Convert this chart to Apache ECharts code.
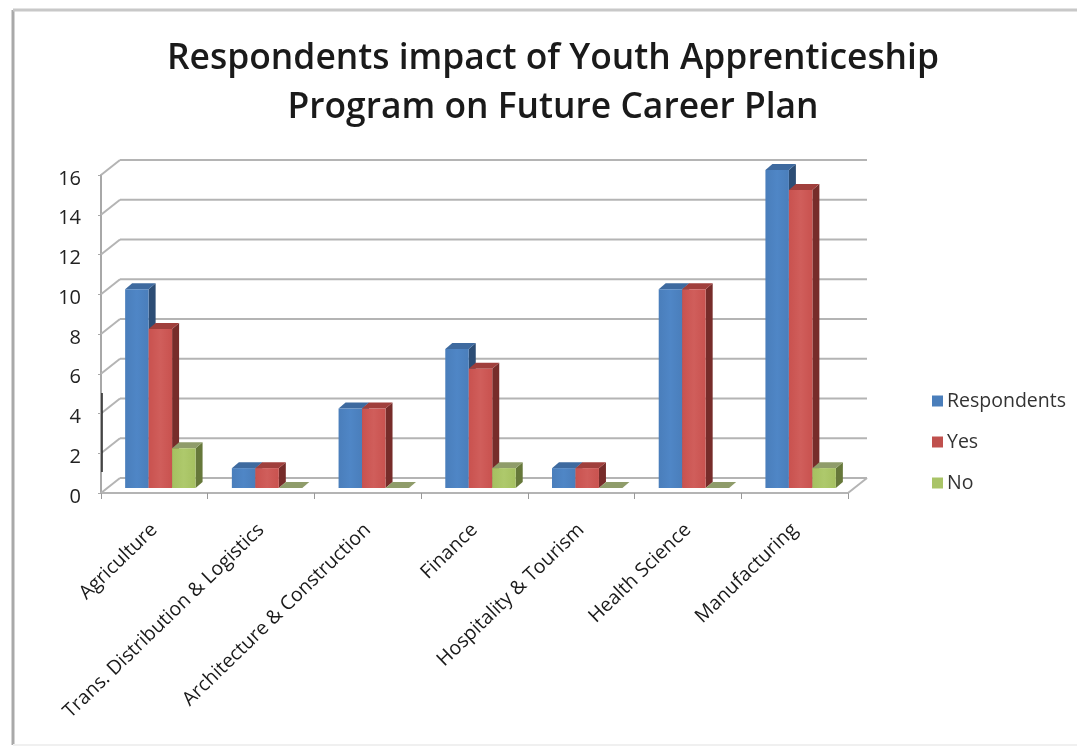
<!DOCTYPE html>
<html>
<head>
<meta charset="utf-8">
<style>html,body{margin:0;padding:0;background:#fff}#chart{width:1077px;height:747px}</style>
<script src="https://cdn.jsdelivr.net/npm/echarts@6/dist/echarts.min.js"></script>
</head>
<body>
<div id="chart"></div>
<script>
const titleText = 'Respondents impact of Youth Apprenticeship\nProgram on Future Career Plan';
const categories = ['Agriculture', 'Trans. Distribution & Logistics', 'Architecture & Construction', 'Finance', 'Hospitality & Tourism', 'Health Science', 'Manufacturing'];
const respondents = [10, 1, 4, 7, 1, 10, 16];
const yes = [8, 1, 4, 6, 1, 10, 15];
const no = [2, 0, 0, 1, 0, 0, 1];
const yTicks = [0, 2, 4, 6, 8, 10, 12, 14, 16];

// Pseudo-3D projection: the wall sits behind the axis plane, bars stand mid-way
const WALL_DX = 19, WALL_DY = -15;
const BAR_DX = 6, BAR_DY = -5;
const CAP_DX = 7, CAP_DY = -6;
const BAR_SHARE = 0.22;

const chart = echarts.init(document.getElementById('chart'));

function wallLines(params, api) {
  const v = api.value(0);
  const cs = params.coordSys;
  const y = api.coord([0, v])[1];
  const left = cs.x, right = cs.x + cs.width;
  const lineStyle = { stroke: '#b4b4b4', lineWidth: 2, fill: null };
  const children = [
    { type: 'line', shape: { x1: left, y1: y, x2: left + WALL_DX, y2: y + WALL_DY }, style: lineStyle },
    { type: 'line', shape: { x1: left + WALL_DX, y1: y + WALL_DY, x2: right + WALL_DX, y2: y + WALL_DY }, style: lineStyle }
  ];
  if (v === 0) {
    children.push({ type: 'line', shape: { x1: right, y1: y, x2: right + WALL_DX, y2: y + WALL_DY }, style: lineStyle });
  }
  return { type: 'group', children };
}

function barRenderer(slot, front, side, cap) {
  return function (params, api) {
    const idx = api.value(0);
    const p = api.coord([idx, api.value(1)]);
    const base = api.coord([idx, 0]);
    const w = api.size([1, 0])[0] * BAR_SHARE;
    const x0 = p[0] + BAR_DX - 1.5 * w + slot * w;
    const x1 = x0 + w;
    const top = p[1] + BAR_DY;
    const bot = base[1] + BAR_DY;
    return {
      type: 'group',
      children: [
        { type: 'polygon', shape: { points: [[x1, top], [x1 + CAP_DX, top + CAP_DY], [x1 + CAP_DX, bot + CAP_DY], [x1, bot]] }, style: { fill: side } },
        { type: 'polygon', shape: { points: [[x0, top], [x0 + CAP_DX, top + CAP_DY], [x1 + CAP_DX, top + CAP_DY], [x1, top]] }, style: { fill: cap } },
        { type: 'rect', shape: { x: x0, y: top, width: w, height: bot - top }, style: { fill: front } }
      ]
    };
  };
}

function gradient(edge, mid) {
  return new echarts.graphic.LinearGradient(0, 0, 1, 0, [
    { offset: 0, color: edge }, { offset: 0.5, color: mid }, { offset: 1, color: edge }
  ]);
}

const barSeries = [
  { name: 'Respondents', values: respondents, legend: '#4a7ebb', front: gradient('#4a7ebb', '#4f86c6'), side: '#2c4d75', cap: '#3e6a9f' },
  { name: 'Yes', values: yes, legend: '#c0504d', front: gradient('#c9524f', '#d05e5b'), side: '#772c2a', cap: '#a03f3c' },
  { name: 'No', values: no, legend: '#a9c467', front: gradient('#a5c060', '#aec96c'), side: '#66783a', cap: '#8f9c6a' }
].map((s, slot) => ({
  type: 'custom',
  name: s.name,
  coordinateSystem: 'cartesian2d',
  encode: { x: 0, y: 1 },
  data: s.values.map((v, i) => [i, v]),
  itemStyle: { color: s.legend },
  z: 3 + slot,
  renderItem: barRenderer(slot, s.front, s.side, s.cap)
}));

chart.setOption({
  animation: false,
  backgroundColor: '#ffffff',
  textStyle: { fontFamily: 'Open Sans' },
  title: {
    text: titleText,
    left: 548,
    top: 29,
    textAlign: 'center',
    textStyle: { fontFamily: 'Open Sans', fontSize: 35.4, fontWeight: 600, color: '#1a1a1a', lineHeight: 49 }
  },
  legend: {
    orient: 'vertical',
    left: 927,
    top: 386,
    itemWidth: 11,
    itemHeight: 11,
    itemGap: 21,
    icon: 'rect',
    data: ['Respondents', 'Yes', 'No'],
    textStyle: { fontFamily: 'Open Sans', fontSize: 19.5, color: '#333333', padding: [0, 0, 0, -1] }
  },
  grid: { left: 101, right: 229, top: 175, bottom: 254 },
  xAxis: {
    type: 'category',
    data: categories,
    axisLine: { lineStyle: { color: '#b4b4b4', width: 2 } },
    axisTick: { show: true, length: 6, alignWithLabel: false, lineStyle: { color: '#999999' } },
    axisLabel: { rotate: 44, interval: 0, margin: 34, fontFamily: 'Open Sans', fontSize: 19.5, color: '#1a1a1a' }
  },
  yAxis: {
    type: 'value',
    min: 0,
    max: 16,
    interval: 2,
    splitLine: { show: false },
    axisLine: { show: true, lineStyle: { color: '#a8a8a8', width: 2 } },
    axisTick: { show: true, length: 3, lineStyle: { color: '#a8a8a8' } },
    axisLabel: { margin: 20, fontFamily: 'Open Sans', fontSize: 20, color: '#222222', verticalAlign: 'top', lineHeight: 8 }
  },
  graphic: [
    { type: 'line', z: 0, shape: { x1: 13, y1: 10, x2: 13, y2: 745 }, style: { stroke: '#a9a9a9', lineWidth: 3 } },
    { type: 'line', z: 0, shape: { x1: 13, y1: 10, x2: 1077, y2: 10 }, style: { stroke: '#c8c8c8', lineWidth: 3 } },
    { type: 'line', z: 0, shape: { x1: 13, y1: 745, x2: 1077, y2: 745 }, style: { stroke: '#f0f0f0', lineWidth: 2 } },
    { type: 'line', z: 10, shape: { x1: 102, y1: 393, x2: 102, y2: 472 }, style: { stroke: '#222222', lineWidth: 1.5 } }
  ],
  series: [
    {
      type: 'custom',
      name: 'wall',
      coordinateSystem: 'cartesian2d',
      encode: { y: 0 },
      data: yTicks.map(v => [v]),
      z: 1,
      silent: true,
      renderItem: wallLines
    },
    ...barSeries
  ]
});
</script>
</body>
</html>
